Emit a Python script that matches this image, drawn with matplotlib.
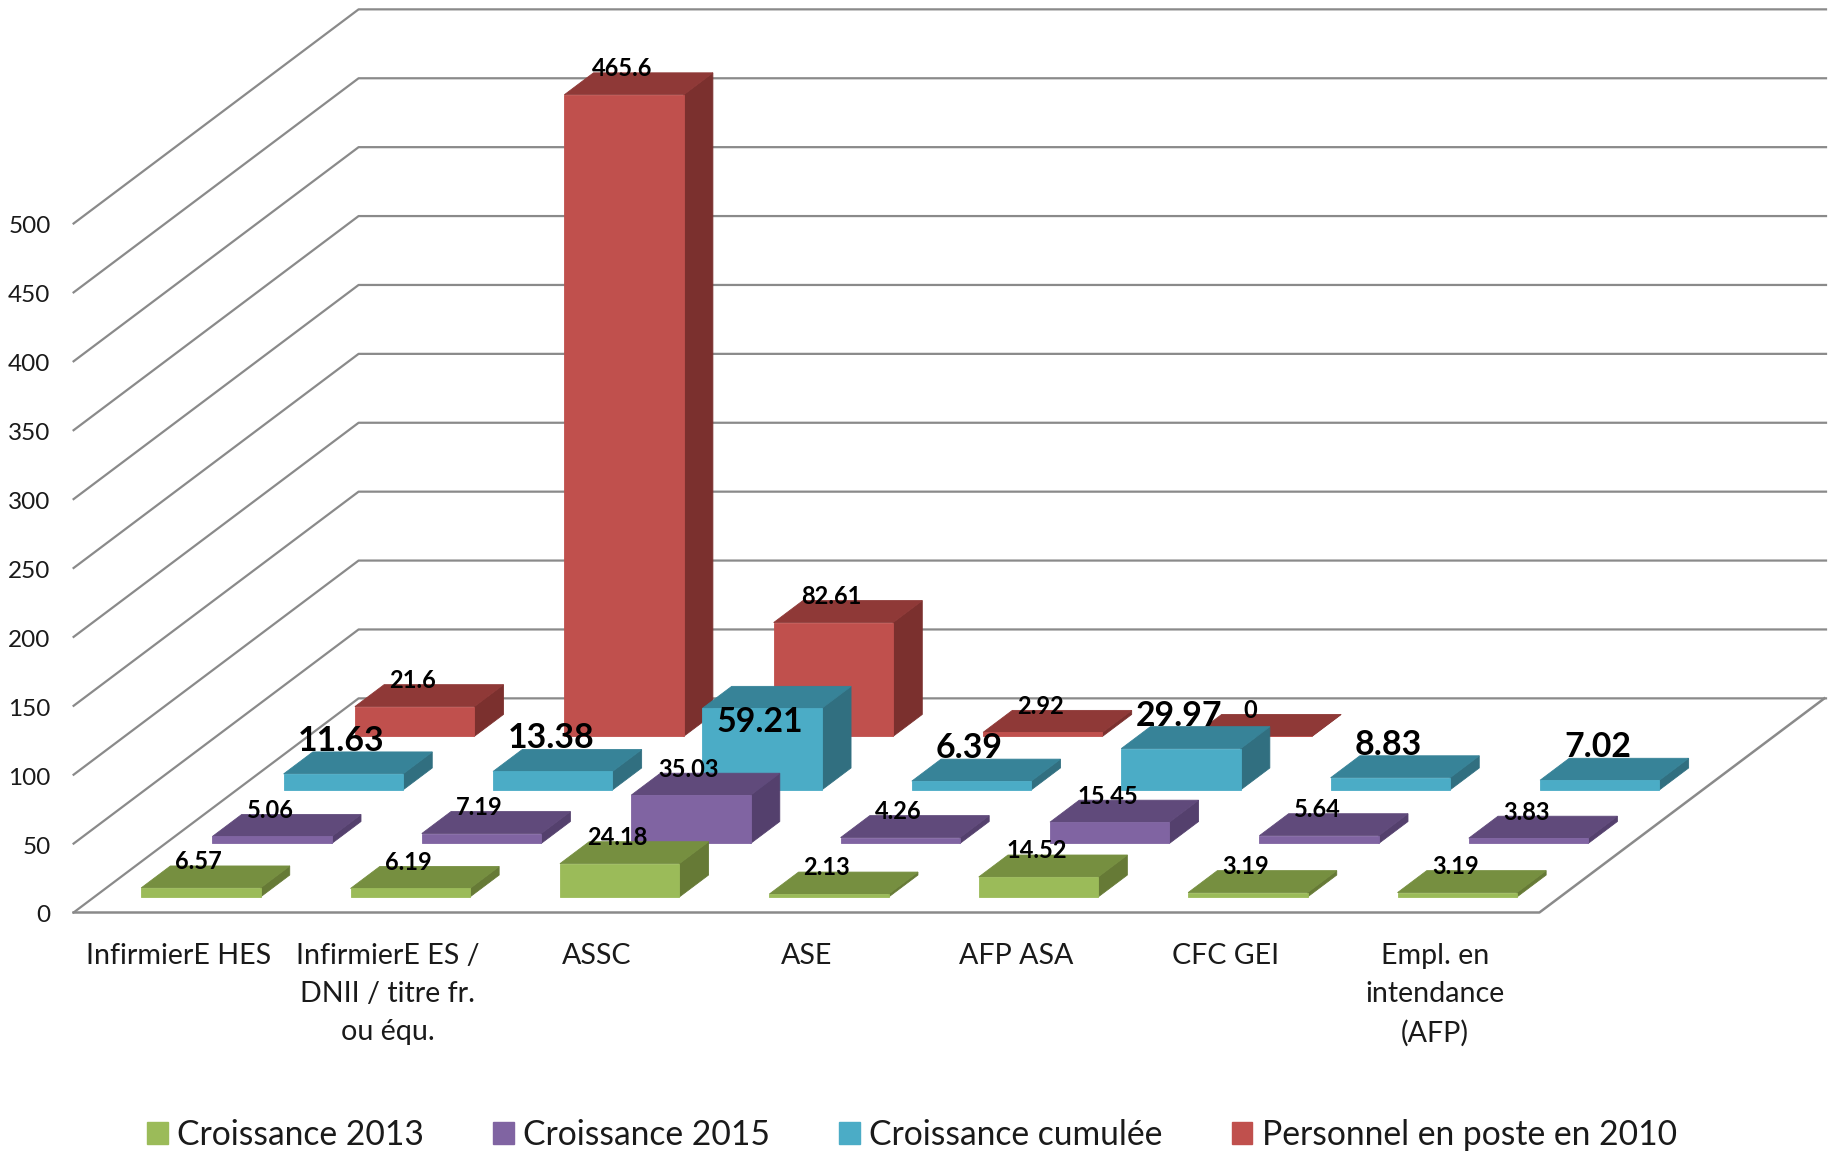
import matplotlib
matplotlib.use('Agg')
import matplotlib.pyplot as plt
from matplotlib.patches import Patch

plt.rcParams['font.family'] = ['Lato', 'DejaVu Sans']

categories = ['InfirmierE HES', 'InfirmierE ES /\nDNII / titre fr.\nou équ.', 'ASSC', 'ASE',
              'AFP ASA', 'CFC GEI', 'Empl. en\nintendance\n(AFP)']
series_names = ['Croissance 2013', 'Croissance 2015', 'Croissance cumulée', 'Personnel en poste en 2010']
growth_2013 = [6.57, 6.19, 24.18, 2.13, 14.52, 3.19, 3.19]
growth_2015 = [5.06, 7.19, 35.03, 4.26, 15.45, 5.64, 3.83]
growth_total = [11.63, 13.38, 59.21, 6.39, 29.97, 8.83, 7.02]
staff_2010 = [21.6, 465.6, 82.61, 2.92, 0]
y_ticks = [0, 50, 100, 150, 200, 250, 300, 350, 400, 450, 500]

front_colors = ['#9BBB59', '#8064A2', '#4BACC6', '#C0504D']
top_colors = ['#768F40', '#604A7B', '#378398', '#8F3937']
side_colors = ['#667A36', '#54406D', '#316F80', '#7B302E']

W, H = 1831, 1151
cat_px = 209.4
unit_px = 1.378
x0_px = 73.6
y0_px = 912.5
depth_x = 1.361   # in category widths
depth_y = 155.4   # in value units
bar_w = 0.57
bar_gap = 0.224
bar_start = 0.29
bar_depth = 0.41


def project(x, d, v):
    # d is depth in series slots, 0 at the front, 4 at the back wall
    return x + d / 4 * depth_x, v + d / 4 * depth_y


def face(pts, color, z):
    xs, ys = zip(*pts)
    ax.fill(xs, ys, color=color, lw=0.6, zorder=z)


fig = plt.figure(figsize=(W / 100, H / 100), dpi=100)
ax = fig.add_axes([0, 0, 1, 1])
ax.set_xlim(-x0_px / cat_px, (W - x0_px) / cat_px)
ax.set_ylim(-(H - y0_px) / unit_px, y0_px / unit_px)
ax.axis('off')

# grid on the left wall and the back wall
right = 7.0
wall_right = (1826 - x0_px) / cat_px - depth_x
for t in y_ticks:
    xa, ya = project(0, 0, t)
    xb, yb = project(0, 4, t)
    xc, yc = project(wall_right, 4, t)
    ax.plot([xa, xb, xc], [ya, yb, yc], color='#8A8A8A', lw=1.6, zorder=1)
    ax.text(-0.11, t - 2.5, str(t), ha='right', va='center', fontsize=17.5, color='#1a1a1a')

# floor edges
xa, ya = project(right, 0, 0)
xb, yb = project(right, 4, 0)
ax.plot([0, xa, xb], [0, ya, yb], color='#8A8A8A', lw=1.8, zorder=1)

all_series = [growth_2013, growth_2015, growth_total, staff_2010]
for s in [3, 2, 1, 0]:
    big = s == 2
    for i, val in enumerate(all_series[s]):
        x1 = i + bar_gap
        x2 = x1 + bar_w
        d1 = s + bar_start
        d2 = d1 + bar_depth
        z = 10 - s
        face([project(x2, d1, 0), project(x2, d2, 0), project(x2, d2, val), project(x2, d1, val)],
             side_colors[s], z)
        face([project(x1, d1, val), project(x2, d1, val), project(x2, d2, val), project(x1, d2, val)],
             top_colors[s], z)
        face([project(x1, d1, 0), project(x2, d1, 0), project(x2, d1, val), project(x1, d1, val)],
             front_colors[s], z)

        lx, ly = project((x1 + x2) / 2 - 0.01, d1, val)
        ly += bar_depth / 4 * depth_y
        ly += 8 if big else 3
        if val == 59.21:
            ly -= 34
        ax.text(lx, ly, str(val), ha='center', va='center', fontweight='bold', color='black',
                fontsize=24.4 if big else 17, zorder=20)

for i, name in enumerate(categories):
    ax.text(i + 0.5, -22, name, ha='center', va='top', fontsize=20.6, color='#1a1a1a', linespacing=1.58)

handles = [Patch(color=c, label=n) for c, n in zip(front_colors, series_names)]
ax.legend(handles=handles, loc='center', bbox_transform=ax.transAxes, ncol=4,
          frameon=False, fontsize=24.2, handlelength=0.62, handleheight=0.62, handletextpad=0.28,
          columnspacing=2.05, borderaxespad=0, labelcolor='#1a1a1a')
leg = ax.get_legend()
leg.set_bbox_to_anchor((0.498, 1 - 1135 / H), transform=ax.transAxes)

fig.savefig('out.png', dpi=100)
